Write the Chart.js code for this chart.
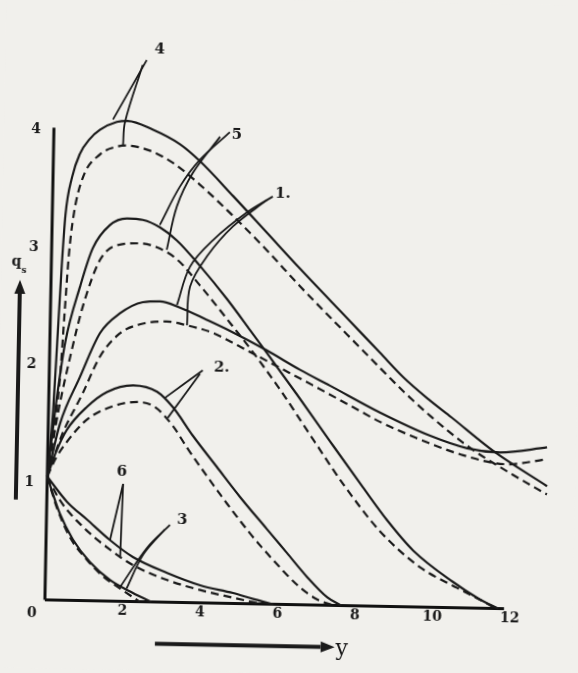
<!DOCTYPE html>
<html>
<head>
<meta charset="utf-8">
<script src="https://cdn.jsdelivr.net/npm/chart.js@4.4.1/dist/chart.umd.min.js"></script>
<style>
  html, body { margin: 0; padding: 0; background: #f1f0ec; overflow: hidden; }
  #chart { display: block; transform: rotate(1.1deg); transform-origin: 50% 50%; }
</style>
</head>
<body>
<canvas id="chart" width="578" height="673"></canvas>
<script>
const xTicks = [0, 2, 4, 6, 8, 10, 12];
const yTicks = [0, 1, 2, 3, 4];

// curve 4
const c4SolidX = [0, 0.12, 0.19, 0.27, 0.34, 0.49, 0.68, 0.93, 1.19, 1.62, 1.9, 2.55, 3.26, 3.78, 4.65, 5.55, 6.42, 7.65, 8.52, 9.15, 9.8, 10.4, 11.5, 12.9];
const c4SolidY = [1.05, 1.62, 2.19, 2.85, 3.28, 3.6, 3.8, 3.93, 4.01, 4.08, 4.09, 4.02, 3.9, 3.76, 3.47, 3.16, 2.86, 2.45, 2.16, 1.95, 1.77, 1.62, 1.34, 1.05];
const c4DashX = [0, 0.12, 0.28, 0.37, 0.45, 0.56, 0.77, 1.2, 1.64, 1.89, 2.49, 3.09, 3.79, 4.66, 5.56, 6.4, 7.66, 8.53, 9.19, 9.85, 10.82, 11.86, 12.9];
const c4DashY = [1.05, 1.35, 1.9, 2.47, 2.95, 3.3, 3.6, 3.8, 3.87, 3.88, 3.84, 3.74, 3.56, 3.3, 3.01, 2.72, 2.31, 2.03, 1.82, 1.63, 1.38, 1.17, 0.98];

// curve 5
const c5SolidX = [0, 0.2, 0.4, 0.75, 1.06, 1.49, 1.93, 2.34, 2.78, 3.23, 3.83, 4.55, 5.16, 5.6, 6.4, 7.27, 8.15, 8.8, 9.48, 10.52, 11.2, 11.7];
const c5SolidY = [1.05, 1.7, 2.2, 2.67, 3.0, 3.2, 3.26, 3.25, 3.19, 3.08, 2.87, 2.59, 2.33, 2.14, 1.79, 1.4, 1.01, 0.73, 0.48, 0.22, 0.08, 0];
const c5DashX = [0, 0.25, 0.55, 0.83, 1.25, 1.68, 2.27, 2.71, 3.24, 3.85, 4.56, 5.25, 5.96, 6.84, 7.65, 8.61, 9.66, 10.63, 11.3, 11.65];
const c5DashY = [1.05, 1.6, 2.1, 2.5, 2.9, 3.03, 3.05, 3.02, 2.92, 2.7, 2.42, 2.14, 1.83, 1.41, 1.03, 0.64, 0.34, 0.17, 0.06, 0];

// curve 1
const c1SolidX = [0, 0.3, 0.79, 1.29, 1.79, 2.38, 2.82, 3.34, 4.04, 4.64, 5.6, 6.47, 7.25, 8.55, 9.86, 10.82, 11.67, 12.88];
const c1SolidY = [1.05, 1.5, 1.9, 2.28, 2.45, 2.55, 2.56, 2.51, 2.41, 2.32, 2.16, 2.0, 1.87, 1.65, 1.46, 1.36, 1.33, 1.38];
const c1DashX = [0, 0.35, 0.88, 1.3, 1.8, 2.31, 3.01, 3.53, 4.2, 4.65, 5.61, 6.81, 7.86, 8.56, 9.42, 10.72, 11.86, 12.88];
const c1DashY = [1.05, 1.4, 1.77, 2.08, 2.28, 2.36, 2.39, 2.36, 2.3, 2.23, 2.07, 1.87, 1.69, 1.57, 1.45, 1.3, 1.23, 1.28];

// curve 2
const c2SolidX = [0, 0.2, 0.48, 0.99, 1.5, 2.17, 2.79, 3.21, 3.74, 4.37, 4.98, 5.69, 6.22, 6.75, 7.28, 7.65];
const c2SolidY = [1.05, 1.25, 1.45, 1.65, 1.78, 1.84, 1.79, 1.66, 1.42, 1.16, 0.91, 0.64, 0.44, 0.24, 0.07, 0];
const c2DashX = [0, 0.2, 0.49, 0.99, 1.58, 2.28, 2.74, 3.22, 3.59, 4.12, 4.65, 5.26, 5.86, 6.57, 7.02, 7.45];
const c2DashY = [1.05, 1.2, 1.35, 1.54, 1.65, 1.7, 1.66, 1.5, 1.32, 1.08, 0.85, 0.6, 0.38, 0.15, 0.05, 0];

// curve 6
const c6SolidX = [0, 0.52, 1.05, 1.65, 2.25, 3.14, 4.0, 4.85, 5.4, 5.9];
const c6SolidY = [1.05, 0.84, 0.69, 0.52, 0.38, 0.25, 0.15, 0.09, 0.04, 0];
const c6DashX = [0, 0.34, 0.94, 1.65, 2.26, 3.14, 4.0, 4.85, 5.6];
const c6DashY = [1.05, 0.85, 0.63, 0.44, 0.31, 0.19, 0.11, 0.05, 0];

// curve 3
const c3SolidX = [0, 0.34, 0.69, 1.14, 1.67, 2.27, 2.75];
const c3SolidY = [1.05, 0.74, 0.52, 0.33, 0.18, 0.074, 0];
const c3DashX = [0, 0.26, 0.61, 1.06, 1.49, 1.93, 2.45];
const c3DashY = [1.05, 0.79, 0.54, 0.35, 0.21, 0.11, 0];

// leader lines from the labels to the curves
const lead4aX = [2.36, 1.52], lead4aY = [4.61, 4.1];
const lead4bX = [2.26, 1.83, 1.79], lead4bY = [4.57, 4.08, 3.88];
const lead5aX = [4.54, 3.78, 3.28, 2.78], lead5aY = [4.01, 3.77, 3.54, 3.21];
const lead5bX = [4.29, 3.61, 3.21, 2.97], lead5bY = [3.97, 3.66, 3.37, 3.0];
const lead1aX = [5.68, 5.02, 4.16, 3.58, 3.26], lead1aY = [3.47, 3.33, 3.09, 2.86, 2.53];
const lead1bX = [5.53, 4.67, 4.01, 3.59, 3.53], lead1bY = [3.44, 3.21, 2.95, 2.69, 2.36];
const lead2aX = [3.96, 3.0], lead2aY = [1.98, 1.74];
const lead2bX = [3.89, 3.08], lead2bY = [1.95, 1.57];
const lead6aX = [1.96, 1.65], lead6aY = [1.0, 0.52];
const lead6bX = [1.96, 1.92], lead6bY = [1.0, 0.37];
const lead3aX = [3.19, 2.61, 1.93], lead3aY = [0.66, 0.46, 0.12];
const lead3bX = [3.06, 2.51, 2.1], lead3bY = [0.62, 0.4, 0.11];

// axis lines
const axisXX = [0, 11.85], axisXY = [0, 0];
const axisYX = [0, 0], axisYY = [0, 4.02];

const curveLabels = ['4', '5', '1.', '2.', '6', '3'];
const labelX = [2.69, 4.72, 5.94, 4.45, 1.92, 3.5];
const labelY = [4.7, 3.99, 3.49, 2.0, 1.1, 0.7];

const ink = '#1a1a1a';
const paper = '#f1f0ec';

const pts = (xs, ys) => xs.map((x, i) => ({ x, y: ys[i] }));

const curve = (xs, ys, dashed) => ({
  data: pts(xs, ys),
  borderColor: ink,
  borderWidth: 2.2,
  borderDash: dashed ? [8, 5] : [],
  pointRadius: 0,
  cubicInterpolationMode: 'monotone',
  clip: false,
});

const leader = (xs, ys) => ({
  data: pts(xs, ys),
  borderColor: ink,
  borderWidth: 1.8,
  pointRadius: 0,
  tension: 0.35,
  clip: false,
});

const axisLine = (xs, ys) => ({
  data: pts(xs, ys),
  borderColor: '#111',
  borderWidth: 3,
  pointRadius: 0,
  tension: 0,
  clip: false,
});

const drawArrow = (ctx, x0, y0, x1, y1) => {
  const a = Math.atan2(y1 - y0, x1 - x0);
  const head = 14, half = 5.5;
  const bx = x1 - head * Math.cos(a), by = y1 - head * Math.sin(a);
  ctx.lineWidth = 4;
  ctx.beginPath();
  ctx.moveTo(x0, y0);
  ctx.lineTo(bx, by);
  ctx.stroke();
  ctx.beginPath();
  ctx.moveTo(x1, y1);
  ctx.lineTo(bx - half * Math.sin(a), by + half * Math.cos(a));
  ctx.lineTo(bx + half * Math.sin(a), by - half * Math.cos(a));
  ctx.closePath();
  ctx.fill();
};

const decor = {
  id: 'decor',
  beforeDraw(chart) {
    const { ctx, width, height } = chart;
    ctx.save();
    ctx.fillStyle = paper;
    ctx.fillRect(0, 0, width, height);
    ctx.restore();
  },
  afterDatasetsDraw(chart) {
    const { ctx, scales: { x, y } } = chart;
    const px = v => x.getPixelForValue(v);
    const py = v => y.getPixelForValue(v);
    ctx.save();
    ctx.fillStyle = ink;
    ctx.strokeStyle = ink;
    ctx.textAlign = 'center';
    ctx.textBaseline = 'middle';
    ctx.font = 'bold 15px "DejaVu Serif"';
    curveLabels.forEach((t, i) => ctx.fillText(t, px(labelX[i]), py(labelY[i])));
    ctx.font = 'bold 14px "DejaVu Serif"';
    ctx.fillText('0', px(-0.33), py(-0.113));
    ctx.fillText('q', px(-0.9), py(2.87));
    ctx.font = 'bold 9px "DejaVu Serif"';
    ctx.fillText('s', px(-0.7), py(2.8));
    ctx.font = '22px "DejaVu Serif"';
    ctx.textAlign = 'left';
    ctx.fillText('y', px(7.52), py(-0.37));
    drawArrow(ctx, px(-0.8), py(0.85), px(-0.8), py(2.72));
    drawArrow(ctx, px(2.86), py(-0.355), px(7.5), py(-0.355));
    ctx.restore();
  }
};

const tickFont = { family: 'DejaVu Serif', weight: 'bold', size: 14 };

new Chart(document.getElementById('chart'), {
  type: 'line',
  data: {
    datasets: [
      curve(c4SolidX, c4SolidY, false), curve(c4DashX, c4DashY, true),
      curve(c5SolidX, c5SolidY, false), curve(c5DashX, c5DashY, true),
      curve(c1SolidX, c1SolidY, false), curve(c1DashX, c1DashY, true),
      curve(c2SolidX, c2SolidY, false), curve(c2DashX, c2DashY, true),
      curve(c6SolidX, c6SolidY, false), curve(c6DashX, c6DashY, true),
      curve(c3SolidX, c3SolidY, false), curve(c3DashX, c3DashY, true),
      leader(lead4aX, lead4aY), leader(lead4bX, lead4bY),
      leader(lead5aX, lead5aY), leader(lead5bX, lead5bY),
      leader(lead1aX, lead1aY), leader(lead1bX, lead1bY),
      leader(lead2aX, lead2aY), leader(lead2bX, lead2bY),
      leader(lead6aX, lead6aY), leader(lead6bX, lead6bY),
      leader(lead3aX, lead3aY), leader(lead3bX, lead3bY),
      axisLine(axisXX, axisXY), axisLine(axisYX, axisYY),
    ]
  },
  options: {
    responsive: false,
    animation: false,
    layout: { padding: { top: 52, right: 13, left: 0, bottom: 0 } },
    plugins: { legend: { display: false }, tooltip: { enabled: false } },
    scales: {
      x: {
        type: 'linear',
        min: 0,
        max: 13.29,
        afterFit: (s) => { s.height = 68.4; },
        afterBuildTicks: (s) => { s.ticks = xTicks.map(v => ({ value: v })); },
        grid: { display: false, drawTicks: false },
        border: { display: false },
        ticks: {
          font: tickFont, color: ink, padding: 1, maxRotation: 0, autoSkip: false,
          callback: (v) => (v === 0 ? '' : String(v)),
        },
      },
      y: {
        type: 'linear',
        min: 0,
        max: 4.703,
        afterFit: (s) => { s.width = 50; },
        afterBuildTicks: (s) => { s.ticks = yTicks.map(v => ({ value: v })); },
        grid: { display: false, drawTicks: false },
        border: { display: false },
        ticks: {
          font: tickFont, color: ink, padding: 13,
          callback: (v) => (v === 0 ? '' : String(v)),
        },
      },
    },
  },
  plugins: [decor],
});
</script>
</body>
</html>
